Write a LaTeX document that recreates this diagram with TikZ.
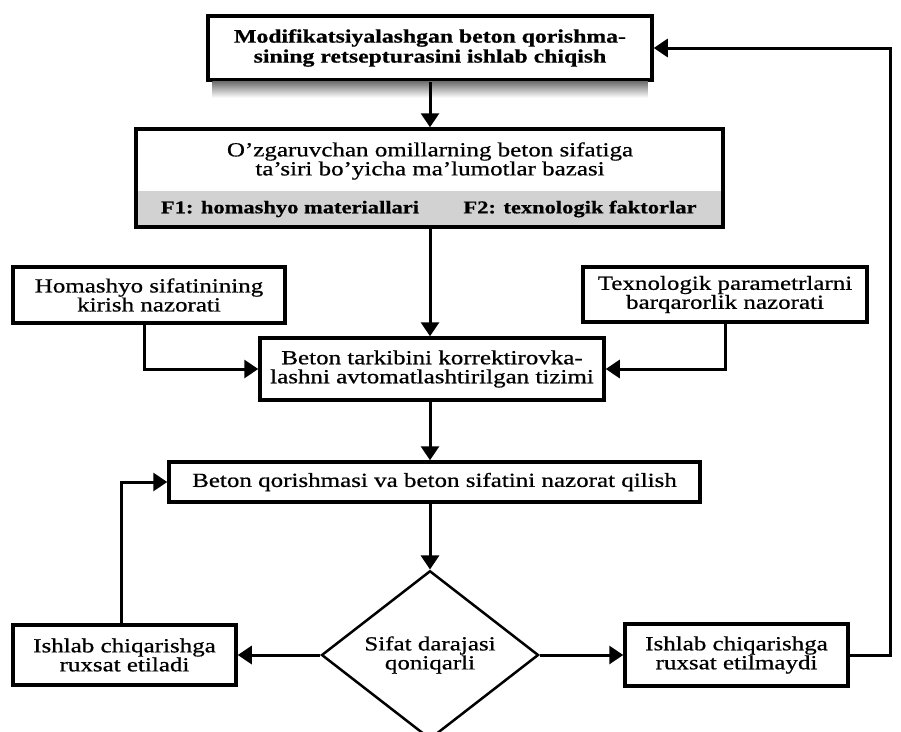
\documentclass[tikz,border=0pt]{standalone}
\usepackage{fontspec}
\setmainfont{Liberation Serif}[FakeStretch=1.25,FakeBold=0.7]
\usetikzlibrary{arrows.meta,shapes.geometric}

\begin{document}
\begin{tikzpicture}[x=1pt,y=-1pt,
  box/.style={draw,line width=3.5pt,fill=white,align=center,inner sep=0pt,font=\fontsize{20}{19}\selectfont},
  arr/.style={line width=3pt,-{Triangle[length=14pt,width=18pt]}}]

\useasboundingbox (0,0) rectangle (901,731);

\node[box,minimum width=444pt,minimum height=64pt,font=\bfseries\fontsize{19}{20}\selectfont] (mod) at (430,48) {Modifikatsiyalashgan beton qorishma-\\sining retsepturasini ishlab chiqish};
\shade[top color=black!55,bottom color=white] ([xshift=6pt]mod.south west) rectangle ([xshift=-6pt,yshift=-16pt]mod.south east);

\fill[gray!35] (136,191) rectangle (723,227);
\node[box,fill=none,minimum width=587pt,minimum height=98pt] (baza) at (429.5,178) {};
\node[align=center,font=\fontsize{20}{19}\selectfont] (bazamatn) at (430,161) {O'zgaruvchan omillarning beton sifatiga\\ta'siri bo'yicha ma'lumotlar bazasi};
\node[font=\bfseries\fontsize{18}{20}\selectfont] (f1) at (290,209) {F1: homashyo materiallari};
\node[font=\bfseries\fontsize{18}{20}\selectfont] (f2) at (580,209) {F2: texnologik faktorlar};

\node[box,minimum width=272pt,minimum height=56pt] (hom) at (149,295) {Homashyo sifatinining\\kirish nazorati};
\node[box,minimum width=284pt,minimum height=55pt] (tex) at (725,294.5) {Texnologik parametrlarni\\barqarorlik nazorati};

\node[box,minimum width=344pt,minimum height=62pt] (korr) at (432,369) {Beton tarkibini korrektirovka-\\lashni avtomatlashtirilgan tizimi};

\node[box,minimum width=531pt,minimum height=40pt] (sifat) at (434.5,482) {Beton qorishmasi va beton sifatini nazorat qilish};

\node[box,shape=diamond,line width=2.5pt,minimum width=217pt,minimum height=156pt] (qon) at (430,655) {Sifat darajasi\\qoniqarli};

\node[box,minimum width=223pt,minimum height=60pt] (ruxsat) at (124.5,655) {Ishlab chiqarishga\\ruxsat etiladi};
\node[box,minimum width=223pt,minimum height=62pt] (taqiq) at (736.5,655) {Ishlab chiqarishga\\ruxsat etilmaydi};

\coordinate (qaytish) at (890,48);

\draw[arr] (mod.south) -- (mod.south |- baza.north);
\draw[arr] (mod.south |- baza.south) -- (mod.south |- korr.north);
\draw[arr] ([xshift=-5pt]hom.south) |- (korr.west);
\draw[arr] (tex.south) |- (korr.east);
\draw[arr] (korr.south -| qon.north) -- (qon.north |- sifat.north);
\draw[arr] (sifat.south -| qon.north) -- (qon.north);
\draw[arr] (qon.west) -- (ruxsat.east);
\draw[arr] (qon.east) -- (taqiq.west);
\draw[arr] ([xshift=-3pt]ruxsat.north) |- (sifat.west);
\draw[arr] (taqiq.east) -| (qaytish) -- (mod.east);

\end{tikzpicture}
\end{document}
